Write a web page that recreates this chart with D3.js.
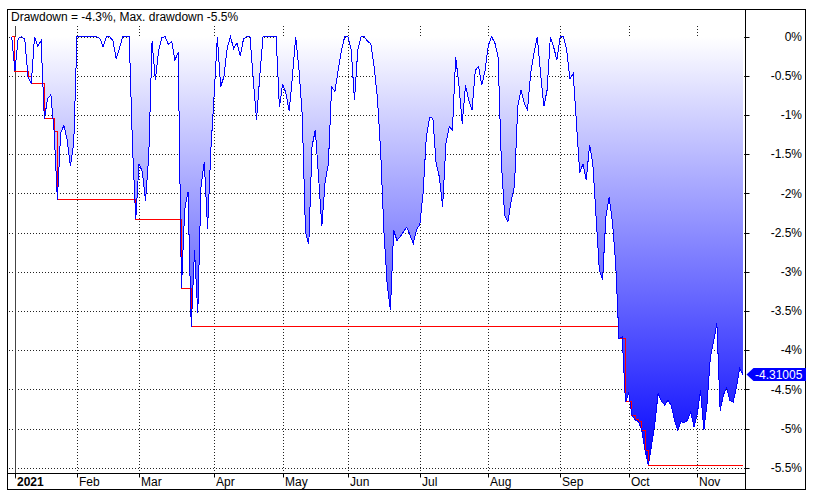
<!DOCTYPE html>
<html>
<head>
<meta charset="utf-8">
<script src="https://cdn.jsdelivr.net/npm/d3@7"></script>
<style>
	body { margin: 0; background: #fff; }
	text { font-family: "Liberation Sans", Arial, sans-serif; font-size: 12px; }
</style>
</head>
<body>
<svg id="chart"></svg>
<script>
// daily drawdown in %, one value per trading day (31 Dec 2020 .. 19 Nov 2021)
var drawdown = [
	0, -0.44, -0.02, 0, -0.03, -0.51, -0.60, 0, -0.12, -0.05,
	-1.05, -0.79, -0.74, -1.21, -2.08, -1.23, -1.13, -1.32, -1.65, -1.36,
	0, 0, 0, 0, 0, 0, 0, -0.02, -0.13, 0,
	0, -0.05, -0.28, -0.15, 0, 0, 0, -1.40, -2.33, -1.62,
	-1.72, -2.10, -1.50, -0.06, -0.55, -0.18, -0.01, 0, -0.10, -0.06,
	-0.30, -0.20, -3.21, -2.20, -1.98, -3.70, -2.72, -3.53, -1.90, -1.60,
	-2.45, -1.45, -0.75, 0, -0.64, -0.51, -0.15, 0, -0.15, -0.08,
	-0.25, -0.03, 0, 0, -0.55, -1.06, -0.50, 0, 0, 0,
	0, 0, -0.90, -0.60, -0.72, -0.95, -0.50, 0, -0.42, -1.00,
	-2.50, -2.65, -1.40, -1.19, -1.79, -2.42, -1.85, -1.62, -0.64, -0.70,
	-0.43, -0.17, 0, 0, -0.17, -0.81, -0.17, 0, 0, -0.06,
	-0.09, -0.38, -0.77, -1.45, -2.47, -3.15, -3.49, -2.47, -2.60, -2.55,
	-2.49, -2.43, -2.53, -2.64, -2.46, -2.40, -2.00, -1.28, -1.03, -1.04,
	-1.62, -1.79, -2.17, -1.36, -1.15, -1.19, -0.26, -0.62, -1.11, -0.62,
	-0.81, -0.94, -0.43, -0.38, -0.62, -0.43, -0.11, 0, -0.08, -0.26,
	-1.62, -2.28, -2.36, -2.09, -1.91, -0.89, -0.68, -0.85, -0.93, -0.45,
	-0.21, 0, -0.47, -0.89, -0.68, 0, -0.13, -0.30, 0, 0,
	-0.17, -0.54, -0.47, -1.11, -1.74, -1.62, -1.83, -1.38, -1.62, -2.30,
	-2.98, -3.10, -2.30, -2.05, -2.36, -2.89, -3.85, -3.83, -4.66, -4.55,
	-4.83, -4.89, -4.91, -5.02, -5.28, -5.47, -5.21, -4.94, -4.55, -4.65,
	-4.70, -4.64, -4.70, -4.89, -5.02, -4.91, -4.93, -4.89, -4.79, -4.98,
	-4.81, -4.51, -5.02, -4.68, -4.09, -3.89, -3.66, -4.77, -4.57, -4.48,
	-4.64, -4.66, -4.47, -4.23, -4.31005
];

// month ticks: label and trading-day index of the first session
var monthLabels = ['2021', 'Feb', 'Mar', 'Apr', 'May', 'Jun', 'Jul', 'Aug', 'Sep', 'Oct', 'Nov'];
var monthStartIdx = [1, 20, 39, 62, 83, 103, 125, 146, 168, 189, 210];

var yTicks = [0, -0.5, -1, -1.5, -2, -2.5, -3, -3.5, -4, -4.5, -5, -5.5];

var unit = {width: 818, height: 496};
var plot = {left: 8, right: 746, top: 10, bottom: 473, gridTop: 26};
var frame = {left: 7.5, top: 9.5, right: 805.5, bottom: 489.5, axis: 473.5, sep: 745.5};

var svg = d3.select('#chart')
	.attr('width', unit.width)
	.attr('height', unit.height);

var x = d3.scaleLinear().domain([-1.13, 224.92]).range([plot.left, plot.right]);
var y = d3.scaleLinear().domain([0, -5.5]).range([36.7, 467.7]);

// running maximum drawdown
var maxDD = [];
drawdown.reduce(function(m, v, i){
	m = Math.min(m, v);
	maxDD.push(m);
	return m;
}, 0);

var defs = svg.append('defs');
var grad = defs.append('linearGradient')
	.attr('id', 'ddFill')
	.attr('gradientUnits', 'userSpaceOnUse')
	.attr('x1', 0).attr('x2', 0)
	.attr('y1', y(0)).attr('y2', y(-5.55));
grad.append('stop').attr('offset', '0%').attr('stop-color', '#ffffff');
grad.append('stop').attr('offset', '100%').attr('stop-color', '#0000ff');

// grid
var gGrid = svg.append('g');
gGrid.selectAll('.hgrid')
	.data(yTicks)
	.enter()
	.append('line')
	.attr('x1', plot.left + 1).attr('x2', frame.sep)
	.attr('y1', (d) => Math.round(y(d)) + 0.5)
	.attr('y2', (d) => Math.round(y(d)) + 0.5)
	.attr('stroke', '#222')
	.attr('stroke-dasharray', '1,2');

gGrid.selectAll('.vgrid')
	.data(monthStartIdx)
	.enter()
	.append('line')
	.attr('x1', (d) => Math.round(x(d)) + 0.5)
	.attr('x2', (d) => Math.round(x(d)) + 0.5)
	.attr('y1', plot.gridTop)
	.attr('y2', (d, i) => i == 0 ? frame.axis + 5 : frame.axis)
	.attr('stroke', (d, i) => i == 0 ? '#444' : '#222')
	.attr('stroke-dasharray', (d, i) => i == 0 ? null : '1,2');

// drawdown area + lines
var area = d3.area()
	.x((d, i) => x(i))
	.y0(y(0))
	.y1((d) => y(d));

svg.append('path')
	.datum(drawdown)
	.attr('d', area)
	.attr('fill', 'url(#ddFill)')
	.attr('shape-rendering', 'crispEdges');

var redLine = d3.line()
	.x((d, i) => x(i))
	.y((d) => y(d))
	.curve(d3.curveStepAfter);

svg.append('path')
	.datum(maxDD)
	.attr('d', redLine)
	.attr('fill', 'none')
	.attr('stroke', '#ff0000')
	.attr('stroke-width', 1)
	.attr('shape-rendering', 'crispEdges');

var blueLine = d3.line()
	.x((d, i) => x(i))
	.y((d) => y(d));

svg.append('path')
	.datum(drawdown)
	.attr('d', blueLine)
	.attr('fill', 'none')
	.attr('stroke', '#0000ff')
	.attr('stroke-width', 1)
	.attr('shape-rendering', 'crispEdges');

// frame
var gFrame = svg.append('g').attr('stroke', '#000').attr('stroke-width', 1).attr('fill', 'none');
gFrame.append('rect')
	.attr('x', frame.left).attr('y', frame.top)
	.attr('width', frame.right - frame.left)
	.attr('height', frame.bottom - frame.top);
gFrame.append('line')
	.attr('x1', frame.left).attr('x2', frame.sep)
	.attr('y1', frame.axis).attr('y2', frame.axis);
gFrame.append('line')
	.attr('x1', frame.sep).attr('x2', frame.sep)
	.attr('y1', frame.top).attr('y2', frame.bottom);

// x axis ticks + labels
var gX = svg.append('g');
gX.selectAll('.xtick')
	.data(monthStartIdx)
	.enter()
	.append('line')
	.attr('x1', (d) => Math.round(x(d)) + 0.5)
	.attr('x2', (d) => Math.round(x(d)) + 0.5)
	.attr('y1', frame.axis).attr('y2', frame.axis + 4)
	.attr('stroke', '#000');
gX.selectAll('.xlabel')
	.data(monthStartIdx)
	.enter()
	.append('text')
	.attr('x', (d) => Math.round(x(d)) + 2)
	.attr('y', 486)
	.attr('font-weight', (d, i) => i == 0 ? 'bold' : 'normal')
	.text((d, i) => monthLabels[i]);

// y axis on the right
var gY = svg.append('g');
gY.selectAll('.ytick')
	.data(yTicks)
	.enter()
	.append('line')
	.attr('x1', frame.sep).attr('x2', frame.sep + 4)
	.attr('y1', (d) => Math.round(y(d)) + 0.5)
	.attr('y2', (d) => Math.round(y(d)) + 0.5)
	.attr('stroke', '#000');
gY.selectAll('.ylabel')
	.data(yTicks)
	.enter()
	.append('text')
	.attr('x', 802)
	.attr('y', (d) => y(d))
	.attr('dy', '0.35em')
	.attr('text-anchor', 'end')
	.text((d) => String(d) + '%');

// last value marker
var last = drawdown[drawdown.length - 1];
var ly = y(last);
svg.append('path')
	.attr('d', 'M' + (frame.sep + 1) + ',' + ly +
		'L' + (frame.sep + 8) + ',' + (ly - 6.5) +
		'L' + (frame.right + 0.5) + ',' + (ly - 6.5) +
		'L' + (frame.right + 0.5) + ',' + (ly + 6.5) +
		'L' + (frame.sep + 8) + ',' + (ly + 6.5) + 'Z')
	.attr('fill', '#0000ff');
svg.append('text')
	.attr('x', 755)
	.attr('y', ly)
	.attr('dy', '0.36em')
	.attr('fill', '#fff')
	.text(String(last));

// title
var worst = d3.min(drawdown);
svg.append('text')
	.attr('x', 11)
	.attr('y', 21)
	.text('Drawdown = ' + last.toFixed(1) + '%, Max. drawdown ' + worst.toFixed(1) + '%');
</script>
</body>
</html>
